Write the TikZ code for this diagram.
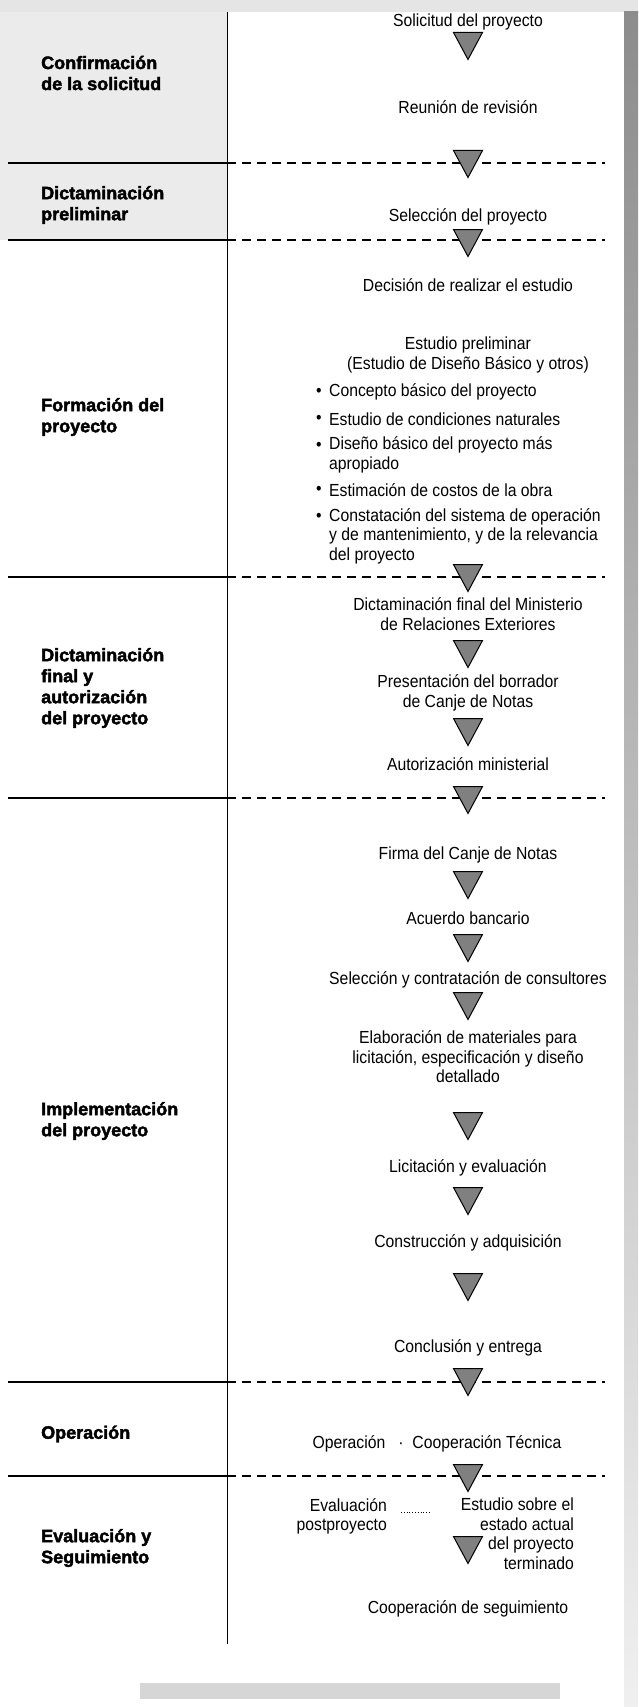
\documentclass[tikz,border=0pt]{standalone}
\usepackage{fontspec}
\setmainfont{Liberation Sans}
\newfontfamily\stepfont{Liberation Sans}[FakeStretch=0.9]
\newfontfamily\labelfont{Liberation Sans}[BoldFeatures={FakeBold=2.2}]
\usetikzlibrary{calc}
\begin{document}
\begin{tikzpicture}[x=1pt,y=-1pt,
  stepnode/.style={font=\stepfont\fontsize{17.5}{19.5}\selectfont, align=center, inner sep=0pt},
  bulnode/.style={font=\stepfont\fontsize{17.5}{19.5}\selectfont, align=left, anchor=west, inner sep=0pt},
  lbl/.style={font=\labelfont\bfseries\fontsize{18}{21}\selectfont, align=left, anchor=west, inner sep=0pt},
  divdash/.style={dash pattern=on 9pt off 6pt, line width=1.1pt},
  divsolid/.style={line width=2.6pt},
  arrowtri/.pic={\filldraw[fill=black!50, draw=black, line width=1pt, line join=miter]
      (-14.5,-13.5) -- (14.5,-13.5) -- (0,13.5) -- cycle;}
]
\useasboundingbox (0,0) rectangle (638,1707);
\fill[white] (0,0) rectangle (638,1707);
% scan tones
\fill[black!10] (0,0) rectangle (638,12);
\fill[black!8] (0,12) rectangle (227,240);
\shade[top color=black!45, bottom color=black!6] (624,12) rectangle (638,1707);
\fill[black!16] (140,1683) rectangle (560,1699);
% vertical rule
\coordinate (vtop) at (227,12);
\coordinate (vbot) at (227,1644);
\draw[line width=1pt] (vtop) -- (vbot);
% section dividers
\foreach \yy [count=\i] in {163,240,577,798,1382,1476}{
  \coordinate (sa\i) at (8,\yy);
  \coordinate (sb\i) at (227,\yy);
  \coordinate (sc\i) at (605,\yy);
  \draw[divsolid] (sa\i) -- (sb\i);
  \draw[divdash] (sb\i) -- (sc\i);
}
% left labels
\node[lbl] (l1) at (41,73) {Confirmación\\de la solicitud};
\node[lbl] (l2) at (41,205) {Dictaminación\\preliminar};
\node[lbl] (l3) at (41,417) {Formación del\\proyecto};
\node[lbl] (l4) at (41,688) {Dictaminación\\final y\\autorización\\del proyecto};
\node[lbl] (l5) at (41,1121) {Implementación\\del proyecto};
\node[lbl] (l6) at (41,1434) {Operación};
\node[lbl] (l7) at (41,1548) {Evaluación y\\Seguimiento};
% steps
\def\C{468}
\node[stepnode] (s1) at (\C,22) {Solicitud del proyecto};
\pic at (\C,46) {arrowtri};
\node[stepnode] (s2) at (\C,107) {Reunión de revisión};
\pic at (\C,164) {arrowtri};
\node[stepnode] (s3) at (\C,217) {Selección del proyecto};
\pic at (\C,243) {arrowtri};
\node[stepnode] (s4) at (\C,285) {Decisión de realizar el estudio};
\node[stepnode] (s5) at (\C,355) {Estudio preliminar\\(Estudio de Diseño Básico y otros)};
\foreach \yy/\txt in {392/{Concepto básico del proyecto},419/{Estudio de condiciones naturales},455/{Diseño básico del proyecto más\\apropiado},490/{Estimación de costos de la obra},536/{Constatación del sistema de operación\\y de mantenimiento, y de la relevancia\\del proyecto}}{
  \node[bulnode] at (329,\yy) {\txt};
}
\foreach \yy in {392,419,446,490,517}{
  \node[stepnode] at (319,\yy) {•};
}
\pic at (\C,578) {arrowtri};
\node[stepnode] (s6) at (\C,614) {Dictaminación final del Ministerio\\de Relaciones Exteriores};
\pic at (\C,654) {arrowtri};
\node[stepnode] (s7) at (\C,693) {Presentación del borrador\\de Canje de Notas};
\pic at (\C,732) {arrowtri};
\node[stepnode] (s8) at (\C,764) {Autorización ministerial};
\pic at (\C,800) {arrowtri};
\node[stepnode] (s9) at (\C,855) {Firma del Canje de Notas};
\pic at (\C,885) {arrowtri};
\node[stepnode] (s10) at (\C,918) {Acuerdo bancario};
\pic at (\C,948) {arrowtri};
\node[stepnode] (s11) at (\C,980) {Selección y contratación de consultores};
\pic at (\C,1006) {arrowtri};
\node[stepnode] (s12) at (\C,1057) {Elaboración de materiales para\\licitación, especificación y diseño\\detallado};
\pic at (\C,1126) {arrowtri};
\node[stepnode] (s13) at (\C,1168) {Licitación y evaluación};
\pic at (\C,1201) {arrowtri};
\node[stepnode] (s14) at (\C,1243) {Construcción y adquisición};
\pic at (\C,1287) {arrowtri};
\node[stepnode] (s15) at (\C,1348) {Conclusión y entrega};
\pic at (\C,1382) {arrowtri};
\node[stepnode] (s16) at (437,1444) {Operación \enspace·\enspace Cooperación Técnica};
\pic at (\C,1478) {arrowtri};
\node[stepnode, align=right, anchor=north east] (s17) at (387,1498) {Evaluación\\postproyecto};
\node[stepnode, align=right, anchor=north east] (s18) at (574,1498) {Estudio sobre el\\estado actual\\del proyecto\\terminado};
\draw[dotted, line width=0.8pt] ([xshift=14pt,yshift=-14pt]s17.north east) -- ([xshift=-30pt,yshift=-14pt]s18.north west);
\pic at (\C,1550) {arrowtri};
\node[stepnode] (s19) at (\C,1609) {Cooperación de seguimiento};
\end{tikzpicture}
\end{document}
